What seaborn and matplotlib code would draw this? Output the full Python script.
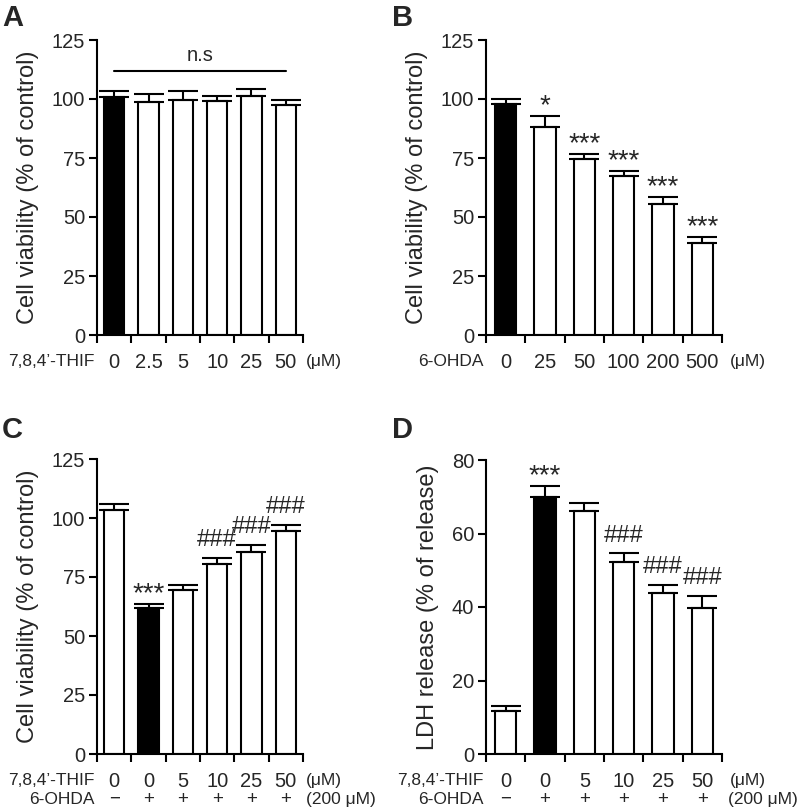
import numpy as np
import pandas as pd
import matplotlib
matplotlib.use("Agg")
import matplotlib.pyplot as plt
import seaborn as sns

# ---- data ----
# Panel A: 7,8,4'-THIF alone
a_labels = ["0", "2.5", "5", "10", "25", "50"]
a_values = [101.0, 98.8, 99.4, 99.0, 101.3, 97.6]
a_errors = [2.4, 3.2, 3.8, 2.2, 3.0, 1.9]
a_fill = ["black", "white", "white", "white", "white", "white"]

# Panel B: 6-OHDA alone
b_labels = ["0", "25", "50", "100", "200", "500"]
b_values = [98.0, 88.3, 74.6, 67.3, 55.6, 38.9]
b_errors = [2.0, 4.6, 2.1, 2.0, 2.7, 2.6]
b_fill = ["black", "white", "white", "white", "white", "white"]
b_marks = ["", "*", "***", "***", "***", "***"]

# Panel C: 7,8,4'-THIF + 6-OHDA, cell viability
c_labels = ["0", "0", "5", "10", "25", "50"]
c_ohda = ["\u2212", "+", "+", "+", "+", "+"]
c_values = [103.2, 61.9, 69.7, 80.6, 85.7, 94.4]
c_errors = [2.8, 1.8, 1.8, 2.5, 2.8, 2.6]
c_fill = ["white", "black", "white", "white", "white", "white"]
c_marks = ["", "***", "", "###", "###", "###"]

# Panel D: 7,8,4'-THIF + 6-OHDA, LDH release
d_labels = ["0", "0", "5", "10", "25", "50"]
d_ohda = ["\u2212", "+", "+", "+", "+", "+"]
d_values = [11.6, 69.8, 66.0, 52.3, 43.7, 39.6]
d_errors = [1.5, 3.1, 2.4, 2.3, 2.3, 3.4]
d_fill = ["white", "black", "white", "white", "white", "white"]
d_marks = ["", "***", "", "###", "###", "###"]

sns.set_theme(style="ticks")
plt.rcParams["font.family"] = ["Liberation Sans", "DejaVu Sans"]

FIG_W, FIG_H = 797, 810
fig = plt.figure(figsize=(FIG_W / 100, FIG_H / 100), dpi=100)


def px_axes(left, top, width, height):
    return fig.add_axes([left / FIG_W, 1 - (top + height) / FIG_H,
                         width / FIG_W, height / FIG_H])


def draw_panel(ax, labels, values, errors, fill, ymax, ystep, ylabel, width):
    n = len(values)
    df = pd.DataFrame({"pos": range(n), "value": values})
    sns.barplot(data=df, x="pos", y="value", hue="pos", palette=fill,
                edgecolor="black", linewidth=1.5, width=width,
                legend=False, ax=ax, errorbar=None)
    ax.errorbar(range(n), values, yerr=[np.zeros(n), errors], fmt="none",
                ecolor="black", elinewidth=1.5, capsize=10.5, capthick=1.5,
                zorder=1)
    ax.set_xlim(-0.5, n - 0.5)
    ax.set_ylim(0, ymax)
    ax.set_yticks(np.arange(0, ymax + 1, ystep))
    ax.set_xticks(range(n), labels)
    ax.set_xticks(np.arange(-0.5, n, 1.0), minor=True)
    ax.tick_params(axis="x", which="major", length=0, pad=13, labelsize=14.5)
    ax.tick_params(axis="x", which="minor", length=5.5, width=1.5,
                   direction="out", color="black")
    ax.tick_params(axis="y", length=5.5, width=1.5, direction="out",
                   labelsize=14.5, color="black", pad=3)
    ax.set_xlabel("")
    ax.set_ylabel(ylabel, fontsize=17, labelpad=9)
    for side in ["top", "right"]:
        ax.spines[side].set_visible(False)
    for side in ["left", "bottom"]:
        ax.spines[side].set_linewidth(1.5)
        ax.spines[side].set_color("black")
    ax.spines["left"].set_bounds(0, ymax)


def row_text(ax, text, row_y, side="left", dx=2):
    x = -0.5 if side == "left" else len(ax.get_xticks()) - 0.5
    ax.annotate(text, xy=(x, 0), xycoords=("data", "axes fraction"),
                xytext=(-dx if side == "left" else dx, row_y),
                textcoords="offset points",
                ha="right" if side == "left" else "left", va="center",
                fontsize=12.5, annotation_clip=False)


def row_marks(ax, marks, row_y):
    for i, m in enumerate(marks):
        ax.annotate(m, xy=(i, 0), xycoords=("data", "axes fraction"),
                    xytext=(0, row_y), textcoords="offset points",
                    ha="center", va="center", fontsize=13.5,
                    annotation_clip=False)


def sig_marks(ax, marks, values, errors):
    for i, m in enumerate(marks):
        if not m:
            continue
        if "#" in m:
            off, size = 8.5, 17
        else:
            off, size = 2.0, 20
        ax.annotate(m, xy=(i, values[i] + errors[i]), xytext=(0, off),
                    textcoords="offset points", ha="center", va="baseline",
                    fontsize=size, annotation_clip=False)


ROW1 = -19.0
ROW2 = -32.5

# ---- A ----
axA = px_axes(97, 40, 206, 295)
draw_panel(axA, a_labels, a_values, a_errors, a_fill, 125, 25,
           "Cell viability (% of control)", 0.6)
axA.plot([0, 5], [112, 112], color="black", lw=1.5)
axA.text(2.5, 114.5, "n.s", ha="center", va="bottom", fontsize=14.5)
row_text(axA, "7,8,4\u2019-THIF", ROW1)
row_text(axA, "(\u03bcM)", ROW1, side="right")

# ---- B ----
axB = px_axes(486, 40, 236, 295)
draw_panel(axB, b_labels, b_values, b_errors, b_fill, 125, 25,
           "Cell viability (% of control)", 0.54)
sig_marks(axB, b_marks, b_values, b_errors)
row_text(axB, "6-OHDA", ROW1)
row_text(axB, "(\u03bcM)", ROW1, side="right", dx=6)

# ---- C ----
axC = px_axes(97, 459, 206, 295)
draw_panel(axC, c_labels, c_values, c_errors, c_fill, 125, 25,
           "Cell viability (% of control)", 0.6)
sig_marks(axC, c_marks, c_values, c_errors)
row_text(axC, "7,8,4\u2019-THIF", ROW1)
row_text(axC, "(\u03bcM)", ROW1, side="right")
row_text(axC, "6-OHDA", ROW2)
row_marks(axC, c_ohda, ROW2)
row_text(axC, "(200 \u03bcM)", ROW2, side="right")

# ---- D ----
axD = px_axes(486, 460, 236, 294)
draw_panel(axD, d_labels, d_values, d_errors, d_fill, 80, 20,
           "LDH release (% of release)", 0.54)
sig_marks(axD, d_marks, d_values, d_errors)
row_text(axD, "7,8,4\u2019-THIF", ROW1)
row_text(axD, "(\u03bcM)", ROW1, side="right", dx=6)
row_text(axD, "6-OHDA", ROW2)
row_marks(axD, d_ohda, ROW2)
row_text(axD, "(200 \u03bcM)", ROW2, side="right", dx=4)

# panel letters
for letter, x, y in [("A", 2, 4), ("B", 392, 4), ("C", 2, 416), ("D", 392, 416)]:
    fig.text(x / FIG_W, 1 - y / FIG_H, letter, ha="left", va="top",
             fontsize=21, fontweight="bold")

fig.savefig("out.png", dpi=100)
